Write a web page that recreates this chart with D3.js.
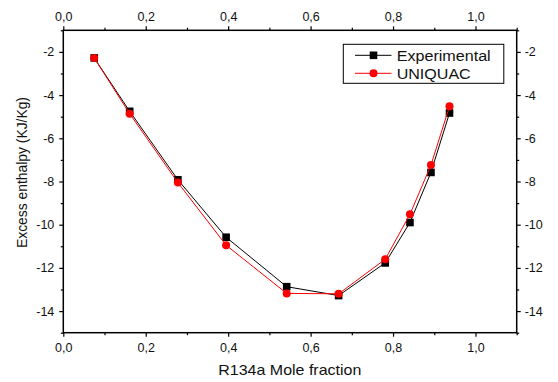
<!DOCTYPE html>
<html>
<head>
<meta charset="utf-8">
<script src="https://d3js.org/d3.v7.min.js"></script>
<style>
  html, body { margin: 0; padding: 0; background: #fff; }
  svg { display: block; font-family: Arial, "Liberation Sans", sans-serif; }
</style>
</head>
<body>
<svg id="chart" width="558" height="382"></svg>
<script>
// ── data ─────────────────────────────────────────
const moleFraction = [0.075, 0.161, 0.278, 0.395, 0.542, 0.668, 0.781, 0.841, 0.892, 0.937];
const experimental = [-2.28, -4.75, -7.92, -10.58, -12.87, -13.28, -11.77, -9.90, -7.58, -4.83];
const uniquac      = [-2.28, -4.86, -8.05, -10.95, -13.18, -13.20, -11.60, -9.52, -7.24, -4.52];
const xTicks = [0, 0.2, 0.4, 0.6, 0.8, 1.0];
const xMinor = [0.1, 0.3, 0.5, 0.7, 0.9, 1.1];
const yTicks = [-2, -4, -6, -8, -10, -12, -14];
const yMinor = [-1, -3, -5, -7, -9, -11, -13, -15];

const svg = d3.select("#chart");
const L = 63.3, T = 30.3, R = 516.7, B = 332.7;

const x = d3.scaleLinear().domain([0, 1.1]).range([L, R]);
const y = d3.scaleLinear().domain([-15, -1]).range([B, T]);

const fmt = d => d3.format(".1f")(d).replace(".", ",");

// ── axes ─────────────────────────────────────────
function styleAxis(g) {
    g.select(".domain").remove();
    g.selectAll(".tick line").attr("stroke", "#000").attr("stroke-width", 1.2);
    g.selectAll(".tick text").attr("fill", "#111").attr("font-size", "12.5px")
        .attr("font-family", "Arial, 'Liberation Sans', sans-serif");
}

// minor ticks
svg.append("g").attr("transform", `translate(0,${B})`)
    .call(d3.axisBottom(x).tickValues(xMinor).tickSize(2.5).tickFormat(""))
    .call(styleAxis);
svg.append("g").attr("transform", `translate(0,${T})`)
    .call(d3.axisTop(x).tickValues(xMinor).tickSize(2.5).tickFormat(""))
    .call(styleAxis);
svg.append("g").attr("transform", `translate(${L},0)`)
    .call(d3.axisLeft(y).tickValues(yMinor).tickSize(2.5).tickFormat(""))
    .call(styleAxis);
svg.append("g").attr("transform", `translate(${R},0)`)
    .call(d3.axisRight(y).tickValues(yMinor).tickSize(2.5).tickFormat(""))
    .call(styleAxis);

// major ticks
svg.append("g").attr("transform", `translate(0,${B})`)
    .call(d3.axisBottom(x).tickValues(xTicks).tickSize(4).tickPadding(6).tickFormat(fmt))
    .call(styleAxis);
svg.append("g").attr("transform", `translate(0,${T})`)
    .call(d3.axisTop(x).tickValues(xTicks).tickSize(4).tickPadding(5).tickFormat(fmt))
    .call(styleAxis);
svg.append("g").attr("transform", `translate(${L},0)`)
    .call(d3.axisLeft(y).tickValues(yTicks).tickSize(4).tickPadding(5).tickFormat(d => d))
    .call(styleAxis);
svg.append("g").attr("transform", `translate(${R},0)`)
    .call(d3.axisRight(y).tickValues(yTicks).tickSize(4).tickPadding(4).tickFormat(d => d))
    .call(styleAxis);

// frame
svg.append("rect")
    .attr("x", L).attr("y", T)
    .attr("width", R - L).attr("height", B - T)
    .attr("fill", "none").attr("stroke", "#000").attr("stroke-width", 1.5);

// ── series ───────────────────────────────────────
const series = [
    { name: "Experimental", values: experimental, color: "#000", shape: "square" },
    { name: "UNIQUAC", values: uniquac, color: "#ff0000", shape: "circle" }
];

const line = d3.line().x((d, i) => x(moleFraction[i])).y(d => y(d));

function drawMarker(g, shape, color, cx, cy) {
    if (shape === "square") {
        g.append("rect").attr("x", cx - 3.8).attr("y", cy - 3.8)
            .attr("width", 7.6).attr("height", 7.6).attr("fill", color);
    } else {
        g.append("circle").attr("cx", cx).attr("cy", cy).attr("r", 4).attr("fill", color);
    }
}

series.forEach(s => {
    svg.append("path")
        .datum(s.values)
        .attr("d", line)
        .attr("fill", "none")
        .attr("stroke", s.color)
        .attr("stroke-width", 1);
    const mg = svg.append("g");
    s.values.forEach((v, i) => drawMarker(mg, s.shape, s.color, x(moleFraction[i]), y(v)));
});

// ── legend ───────────────────────────────────────
const legend = svg.append("g");
legend.append("rect")
    .attr("x", 343.3).attr("y", 44.3).attr("width", 160.5).attr("height", 39)
    .attr("fill", "#fff").attr("stroke", "#000").attr("stroke-width", 1);
series.forEach((s, i) => {
    const ly = 55.3 + i * 18;
    legend.append("line").attr("x1", 355).attr("x2", 391.5)
        .attr("y1", ly).attr("y2", ly).attr("stroke", s.color).attr("stroke-width", 1);
    drawMarker(legend, s.shape, s.color, 373.5, ly);
    legend.append("text")
        .attr("x", 396.7).attr("y", ly + 5.2)
        .attr("font-size", "14px").attr("fill", "#111")
        .attr("textLength", i === 0 ? 94 : 74).attr("lengthAdjust", "spacingAndGlyphs")
        .text(s.name);
});

// ── axis titles ──────────────────────────────────
svg.append("text")
    .attr("x", 218.3).attr("y", 375)
    .attr("font-size", "14.5px").attr("fill", "#111")
    .attr("textLength", 143).attr("lengthAdjust", "spacingAndGlyphs")
    .text("R134a Mole fraction");

svg.append("text")
    .attr("transform", "translate(26.5,248) rotate(-90)")
    .attr("font-size", "14.5px").attr("fill", "#111")
    .attr("textLength", 151).attr("lengthAdjust", "spacingAndGlyphs")
    .text("Excess enthalpy (KJ/Kg)");
</script>
</body>
</html>
